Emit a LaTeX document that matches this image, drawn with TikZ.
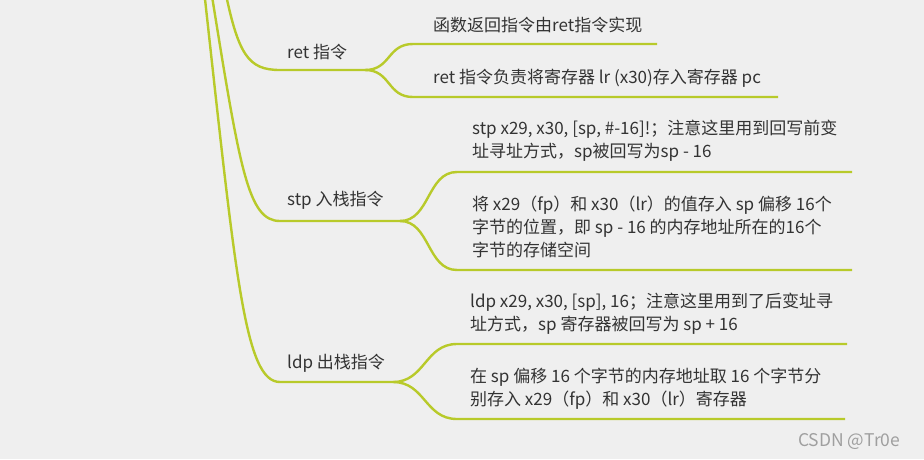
\documentclass[tikz,border=0pt]{standalone}
\usepackage{fontspec}
\setmainfont{Noto Sans CJK SC}
\usetikzlibrary{positioning}
\definecolor{branchgreen}{RGB}{184,202,42}
\definecolor{textgray}{RGB}{51,51,51}
\definecolor{bggray}{RGB}{239,239,239}

\begin{document}
\begin{tikzpicture}[x=1pt,y=-1pt,
  branch/.style={branchgreen,line width=2.4pt},
  topic/.style={anchor=west,inner sep=0pt,text=textgray,font=\fontsize{17}{23}\selectfont},
  leaf/.style={topic,align=left}]
  \fill[bggray] (0,0) rectangle (924,459);
  \useasboundingbox (0,0) rectangle (924,459);
  % ret
  \coordinate (rettop) at (224,-15);
  \coordinate (retstart) at (280,70);
  \coordinate (retfork) at (365,70);
  \coordinate (retaa) at (413,44);  \coordinate (retab) at (657,44);
  \coordinate (retba) at (413,97);  \coordinate (retbb) at (778,97);
  \draw[branch] (rettop) .. controls +(14,70) and +(-32,0) .. (retstart) -- (retfork);
  \draw[branch] (retfork) .. controls +(26,0) and +(-26,0) .. (retaa) -- (retab);
  \draw[branch] (retfork) .. controls +(26,0) and +(-26,0) .. (retba) -- (retbb);
  \node[topic] (ret) at (287,52) {ret 指令};
  \node[leaf] (reta) at (433,25) {函数返回指令由ret指令实现};
  \node[leaf] (retb) at (433,78) {ret 指令负责将寄存器 lr (x30)存入寄存器 pc};
  % stp
  \coordinate (stptop) at (211,-10);
  \coordinate (stpstart) at (280,221);
  \coordinate (stpfork) at (400,221);
  \coordinate (stpaa) at (457,172); \coordinate (stpab) at (852,172);
  \coordinate (stpba) at (457,270); \coordinate (stpbb) at (852,270);
  \draw[branch] (stptop) .. controls (240,170) and (248,221) .. (stpstart) -- (stpfork);
  \draw[branch] (stpfork) .. controls +(30,0) and +(-30,0) .. (stpaa) -- (stpab);
  \draw[branch] (stpfork) .. controls +(30,0) and +(-30,0) .. (stpba) -- (stpbb);
  \node[topic] (stp) at (287,200) {stp 入栈指令};
  \node[leaf] (stpa) at (472,140.5) {stp x29, x30, [sp, \#-16]!；注意这里用到回写前变\\址寻址方式，sp被回写为sp - 16};
  \node[leaf] (stpb) at (472,227) {将 x29（fp）和 x30（lr）的值存入 sp 偏移 16个\\字节的位置，即 sp - 16 的内存地址所在的16个\\字节的存储空间};
  % ldp
  \coordinate (ldptop) at (204,-10);
  \coordinate (ldpstart) at (280,382);
  \coordinate (ldpfork) at (393,382);
  \coordinate (ldpaa) at (457,344); \coordinate (ldpab) at (847,344);
  \coordinate (ldpba) at (457,419); \coordinate (ldpbb) at (845,419);
  \draw[branch] (ldptop) .. controls (236,280) and (245,382) .. (ldpstart) -- (ldpfork);
  \draw[branch] (ldpfork) .. controls +(32,0) and +(-32,0) .. (ldpaa) -- (ldpab);
  \draw[branch] (ldpfork) .. controls +(32,0) and +(-32,0) .. (ldpba) -- (ldpbb);
  \node[topic] (ldp) at (287,363) {ldp 出栈指令};
  \node[leaf] (ldpa) at (470,313.5) {ldp x29, x30, [sp], 16；注意这里用到了后变址寻\\址方式，sp 寄存器被回写为 sp + 16};
  \node[leaf] (ldpb) at (470,389) {在 sp 偏移 16 个字节的内存地址取 16 个字节分\\别存入 x29（fp）和 x30（lr）寄存器};
  % watermark
  \node[anchor=west,inner sep=0pt,text=gray!75,font=\fontsize{17.5}{20}\selectfont] (mark) at (798,441) {CSDN @Tr0e};
\end{tikzpicture}
\end{document}
